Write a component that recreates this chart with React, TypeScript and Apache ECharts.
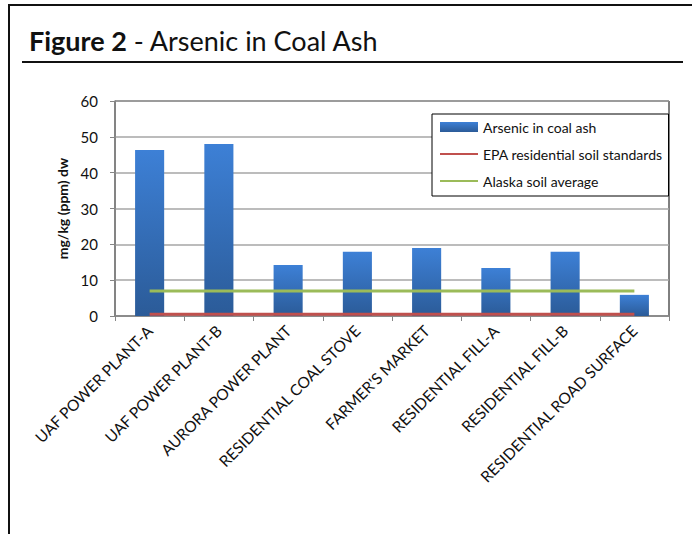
import React, { useEffect, useRef } from "react";
import * as echarts from "echarts";

const categories = [
  "UAF POWER PLANT-A",
  "UAF POWER PLANT-B",
  "AURORA POWER PLANT",
  "RESIDENTIAL COAL STOVE",
  "FARMER'S MARKET",
  "RESIDENTIAL FILL-A",
  "RESIDENTIAL FILL-B",
  "RESIDENTIAL ROAD SURFACE",
];
const arsenicInCoalAsh = [46.3, 48.0, 14.2, 17.9, 19.0, 13.4, 17.9, 5.9];
const epaResidentialStandard = [0.5, 0.5, 0.5, 0.5, 0.5, 0.5, 0.5, 0.5];
const alaskaSoilAverage = [7, 7, 7, 7, 7, 7, 7, 7];
const yTicks = { min: 0, max: 60, interval: 10 };

const FONT = "Lato, 'Open Sans', sans-serif";

export default function App() {
  const ref = useRef<HTMLDivElement>(null);
  useEffect(() => {
    if (!ref.current) return;
    const chart = echarts.init(ref.current, undefined, { renderer: "svg" });
    const barGradient = new echarts.graphic.LinearGradient(0, 0, 0, 1, [
      { offset: 0, color: "#3d80d6" },
      { offset: 1, color: "#2b5b98" },
    ]);
    chart.setOption({
      animation: false,
      backgroundColor: "#ffffff",
      textStyle: { fontFamily: FONT },
      graphic: [
        {
          type: "polyline",
          shape: { points: [[9, 600], [9, 5], [700, 5]] },
          style: { fill: "none", stroke: "#111", lineWidth: 2 },
          silent: true,
        },
        {
          type: "line",
          shape: { x1: 22, y1: 62, x2: 683, y2: 62 },
          style: { stroke: "#111", lineWidth: 2 },
          silent: true,
        },
        {
          type: "text",
          x: 29,
          y: 40,
          style: {
            text: "{b|Figure 2}{n| - Arsenic in Coal Ash}",
            verticalAlign: "middle",
            rich: {
              b: { fontFamily: FONT, fontSize: 27, fontWeight: "bold", fill: "#111" },
              n: { fontFamily: FONT, fontSize: 27, fill: "#111" },
            },
          },
          silent: true,
        },
      ],
      grid: {
        left: 115,
        right: 23,
        top: 101,
        bottom: 218,
        show: true,
        borderColor: "#000",
        borderWidth: 1,
        backgroundColor: "transparent",
      },
      legend: {
        orient: "vertical",
        left: 432,
        top: 114,
        padding: [6, 6, 8, 7],
        itemWidth: 38,
        itemHeight: 10,
        itemGap: 13,
        backgroundColor: "#fff",
        borderColor: "#000",
        borderWidth: 1,
        textStyle: { fontFamily: FONT, fontSize: 14, color: "#111", lineHeight: 14 },
        data: [
          { name: "Arsenic in coal ash", icon: "rect" },
          { name: "EPA residential soil standards", itemStyle: { opacity: 0 } },
          { name: "Alaska soil average", itemStyle: { opacity: 0 } },
        ],
      },
      xAxis: {
        type: "category",
        data: categories,
        boundaryGap: true,
        axisLine: { lineStyle: { color: "#868686", width: 1.5 } },
        axisTick: { show: true, length: 5, lineStyle: { color: "#868686" } },
        axisLabel: {
          rotate: 45,
          interval: 0,
          fontFamily: FONT,
          fontSize: 15.5,
          color: "#111",
          margin: 12,
        },
      },
      yAxis: {
        type: "value",
        min: yTicks.min,
        max: yTicks.max,
        interval: yTicks.interval,
        name: "mg/kg (ppm) dw",
        nameLocation: "middle",
        nameGap: 18,
        nameTextStyle: { fontFamily: FONT, fontSize: 14, fontWeight: "bold", color: "#111" },
        axisLine: { show: true, lineStyle: { color: "#868686", width: 1.5 } },
        axisTick: { show: true, length: 5, lineStyle: { color: "#868686" } },
        axisLabel: { fontFamily: FONT, fontSize: 15, color: "#111", margin: 17 },
        splitLine: { lineStyle: { color: "#a6a6a6", width: 1.5 } },
      },
      series: [
        {
          name: "Arsenic in coal ash",
          type: "bar",
          data: arsenicInCoalAsh,
          barWidth: "42%",
          itemStyle: { color: barGradient },
          z: 2,
        },
        {
          name: "EPA residential soil standards",
          type: "line",
          data: epaResidentialStandard,
          symbol: "none",
          lineStyle: { color: "#c0504d", width: 3 },
          itemStyle: { color: "#c0504d" },
          z: 3,
        },
        {
          name: "Alaska soil average",
          type: "line",
          data: alaskaSoilAverage,
          symbol: "none",
          lineStyle: { color: "#9bbb59", width: 3 },
          itemStyle: { color: "#9bbb59" },
          z: 3,
        },
      ],
    });
    return () => chart.dispose();
  }, []);
  return (
    <div
      ref={ref}
      style={{ position: "fixed", left: 0, top: 0, width: 692, height: 534 }}
    />
  );
}
